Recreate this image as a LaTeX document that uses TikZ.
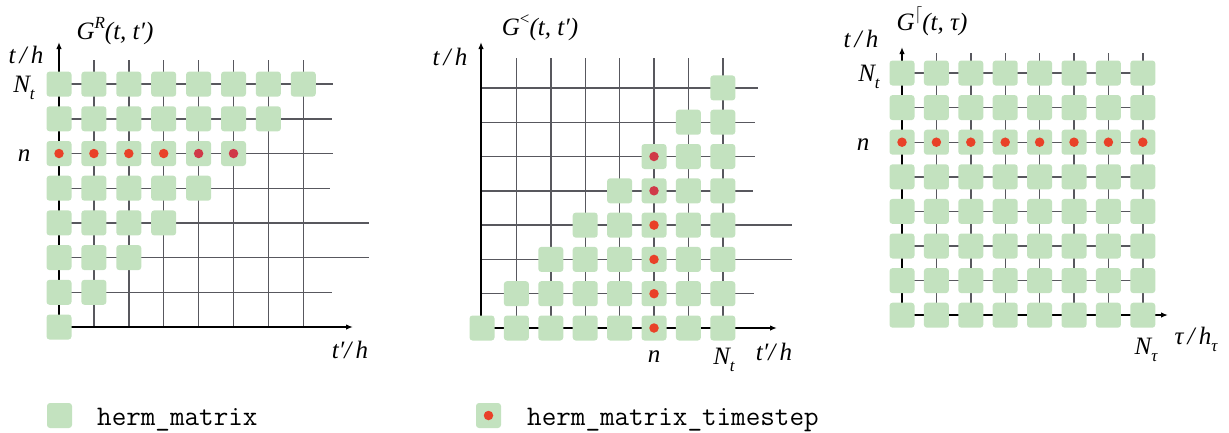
\documentclass[tikz,border=0pt]{standalone}
\usepackage{fontspec}
\newfontfamily\labelserif{Liberation Serif}
\usetikzlibrary{arrows.meta}
\definecolor{sqgreen}{RGB}{195,226,191}
\definecolor{dotorange}{RGB}{233,65,40}
\definecolor{dotcrimson}{RGB}{208,57,72}
\definecolor{gridgray}{RGB}{88,88,94}
\newcommand\mysup[1]{\raisebox{0.45em}{\fontsize{17}{17}\selectfont #1}}
\newcommand\mysub[1]{\raisebox{-0.28em}{\fontsize{17}{17}\selectfont #1}}
\tikzset{
  cell/.style={fill=sqgreen, rounded corners=3pt, minimum size=25pt, inner sep=0pt, draw=none},
  dotA/.style={circle, fill=dotorange, minimum size=9.5pt, inner sep=0pt, draw=none},
  dotB/.style={circle, fill=dotcrimson, minimum size=9.5pt, inner sep=0pt, draw=none},
  gridline/.style={draw=gridgray, line width=1.4pt},
  axisline/.style={draw=black, line width=1.4pt, -{Latex[length=7pt,width=5.5pt]}},
  lbl/.style={font=\fontsize{25}{28}\selectfont\labelserif\itshape, inner sep=0pt},
  legtext/.style={font=\fontsize{28.3}{30}\selectfont\ttfamily\addfontfeature{FakeBold=1.5}, inner sep=0pt, anchor=base west}
}
\begin{document}
\begin{tikzpicture}[x=1pt,y=-1pt]
\useasboundingbox (0,0) rectangle (1229,432);

% ---------------- Panel 1: G^R ----------------
\coordinate (R-o) at (59,327);
\coordinate (R-ytop) at (59,42);
\coordinate (R-xend) at (353,327);
\foreach \c in {1,...,7}
  \draw[gridline] ({59+34.9*\c},327) -- ({59+34.9*\c},60);
\foreach \r/\e in {1/332,2/369,3/369,4/330,5/333,6/332,7/333}
  \draw[gridline] (59,{327-34.7*\r}) -- (\e,{327-34.7*\r});
\draw[axisline] (R-o) -- (R-ytop);
\draw[axisline] (R-o) -- (R-xend);
\foreach \r in {0,...,7}
  \foreach \c in {0,...,\r}
    \node[cell] (R-\r-\c) at ({59+34.9*\c},{327-34.7*\r}) {};
\foreach \c in {0,...,3} \node[dotA] (Rd-\c) at (R-5-\c) {};
\foreach \c in {4,5} \node[dotB] (Rd-\c) at (R-5-\c) {};
\node[lbl] (R-title) at (115,31) {G\mysup{R}(t, t′)};
\node[lbl] (R-tlab) at (26,55) {t\,/\,h};
\node[lbl] (R-Nt) at (24,88) {N\mysub{t}};
\node[lbl] (R-n) at (24,156) {n};
\node[lbl] (R-xlab) at (350,350) {t′/\,h};

% ---------------- Panel 2: G^< ----------------
\coordinate (L-o) at (481,328);
\coordinate (L-ytop) at (481,42);
\coordinate (L-xend) at (777,328);
\foreach \c in {1,...,7}
  \draw[gridline] ({482+34.4*\c},328) -- ({482+34.4*\c},58);
\foreach \r/\e in {1/754,2/792,3/792,4/753,5/755,6/755,7/758}
  \draw[gridline] (481,{328-34.3*\r}) -- (\e,{328-34.3*\r});
\draw[axisline] (L-o) -- (L-ytop);
\draw[axisline] (L-o) -- (L-xend);
\foreach \r in {0,...,7}
  \foreach \c in {\r,...,7}
    \node[cell] (L-\r-\c) at ({482+34.4*\c},{328-34.3*\r}) {};
\foreach \r in {0,...,3} \node[dotA] (Ld-\r) at (L-\r-5) {};
\foreach \r in {4,5} \node[dotB] (Ld-\r) at (L-\r-5) {};
\node[lbl] (L-title) at (540,28) {G\mysup{\upshape<}(t, t′)};
\node[lbl] (L-tlab) at (450,57) {t\,/\,h};
\node[lbl] (L-n) at (654,357) {n};
\node[lbl] (L-Nt) at (724,360) {N\mysub{t}};
\node[lbl] (L-xlab) at (774,352) {t′/\,h};

% ---------------- Panel 3: G^lceil ----------------
\coordinate (M-o) at (902,315);
\coordinate (M-ytop) at (902,47);
\coordinate (M-xend) at (1168,315);
\foreach \c in {1,...,7}
  \draw[gridline] ({902+34.4*\c},315) -- ({902+34.4*\c},53);
\foreach \i in {0,...,6}
  \draw[gridline] (902,{73+34.6*\i}) -- (1143,{73+34.6*\i});
\draw[axisline] (M-o) -- (M-ytop);
\draw[axisline] (M-o) -- (M-xend);
\foreach \i in {0,...,7}
  \foreach \c in {0,...,7}
    \node[cell] (M-\i-\c) at ({902+34.4*\c},{73+34.6*\i}) {};
\foreach \c in {0,...,7} \node[dotA] (Md-\c) at (M-2-\c) {};
\node[lbl] (M-title) at (932,21) {G\mysup{$\lceil$}(t, τ)};
\node[lbl] (M-tlab) at (861,39) {t\,/\,h};
\node[lbl] (M-Nt) at (869,77) {N\mysub{t}};
\node[lbl] (M-n) at (863,145) {n};
\node[lbl] (M-Ntau) at (1146,350) {N\mysub{τ}};
\node[lbl] (M-xlab) at (1196,339) {τ\,/\,h\mysub{τ}};

% ---------------- Legend ----------------
\node[cell] (leg1) at (59.5,415.5) {};
\node[legtext] (leg1t) at (97,425) {herm\_matrix};
\node[cell] (leg2) at (488.5,415.5) {};
\node[dotA] (leg2d) at (leg2) {};
\node[legtext] (leg2t) at (527,425) {herm\_matrix\_timestep};
\end{tikzpicture}
\end{document}
